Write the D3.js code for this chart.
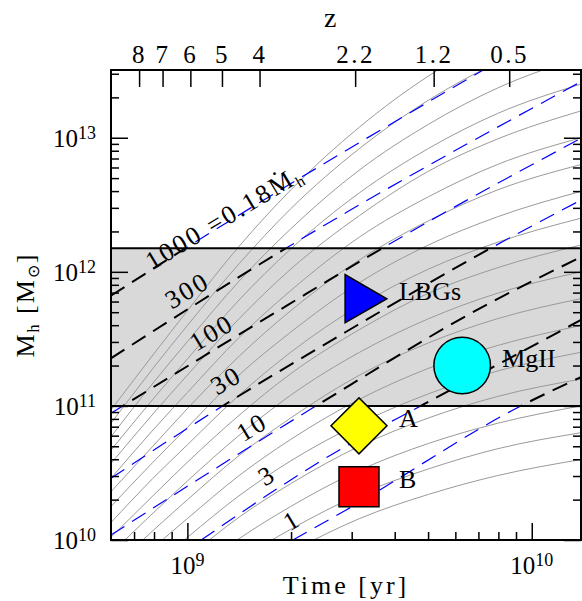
<!DOCTYPE html>
<html>
<head>
<meta charset="utf-8">
<script src="https://cdn.jsdelivr.net/npm/d3@7"></script>
<style>
  body { margin: 0; background: #fff; }
  text { font-family: "Liberation Serif", "Times New Roman", serif; fill: #000; }
</style>
</head>
<body>
<svg id="chart" width="582" height="601"></svg>
<script>
const trackLogT = [8.778, 8.9, 9.0, 9.15, 9.3, 9.5, 9.7, 9.9, 10.143];

// log10 Mh along each grey growth track (one row per track)
const haloTracks = [
  [10.97, 11.38, 11.71, 12.19, 12.61, 13.08, 13.46, 13.75, 14.00],
  [10.87, 11.28, 11.60, 12.06, 12.47, 12.92, 13.28, 13.56, 13.80],
  [10.77, 11.17, 11.48, 11.93, 12.32, 12.76, 13.10, 13.37, 13.60],
  [10.67, 11.05, 11.35, 11.79, 12.17, 12.59, 12.92, 13.18, 13.40],
  [10.57, 10.94, 11.23, 11.65, 12.02, 12.42, 12.75, 12.99, 13.20],
  [10.46, 10.82, 11.10, 11.51, 11.86, 12.26, 12.56, 12.80, 13.00],
  [10.36, 10.70, 10.98, 11.37, 11.71, 12.09, 12.38, 12.61, 12.80],
  [10.25, 10.58, 10.84, 11.23, 11.55, 11.92, 12.20, 12.41, 12.60],
  [10.13, 10.46, 10.71, 11.08, 11.40, 11.75, 12.02, 12.22, 12.40],
  [10.02, 10.33, 10.58, 10.93, 11.24, 11.57, 11.84, 12.03, 12.20],
  [9.90, 10.20, 10.44, 10.78, 11.08, 11.40, 11.65, 11.84, 12.00],
  [9.78, 10.07, 10.30, 10.63, 10.91, 11.23, 11.47, 11.65, 11.80],
  [9.66, 9.94, 10.16, 10.48, 10.75, 11.05, 11.28, 11.45, 11.60],
  [9.54, 9.81, 10.02, 10.33, 10.59, 10.87, 11.09, 11.26, 11.40],
  [9.41, 9.67, 9.87, 10.17, 10.42, 10.70, 10.91, 11.07, 11.20],
  [9.29, 9.53, 9.73, 10.01, 10.25, 10.52, 10.72, 10.87, 11.00],
  [9.16, 9.39, 9.58, 9.85, 10.08, 10.34, 10.53, 10.68, 10.80],
  [9.02, 9.25, 9.43, 9.69, 9.91, 10.16, 10.34, 10.48, 10.60]
];

// lines of constant accretion rate, [log10 t, log10 Mh]
const rate1000 = [[8.778, 11.822], [9.000, 12.185], [9.461, 12.905], [9.859, 13.505]];
const rate300 = [[8.778, 11.355], [9.020, 11.752], [9.292, 12.185], [9.461, 12.442], [10.143, 13.418]];
const rate100 = [[8.778, 10.945], [9.291, 11.752], [9.572, 12.185], [10.143, 12.996]];
const rate30 = [[8.778, 10.460], [9.107, 11.007], [9.461, 11.553], [9.887, 12.185], [10.143, 12.535]];
const rate10 = [[8.778, 10.037], [9.378, 11.007], [9.867, 11.752], [10.143, 12.110]];
const rate3 = [[9.040, 10.000], [9.461, 10.701], [9.683, 11.007], [10.143, 11.641]];
const rate1 = [[9.306, 10.000], [9.461, 10.224], [9.974, 11.007], [10.143, 11.215]];
const rateLines = [rate1000, rate300, rate100, rate30, rate10, rate3, rate1];
const rateNames = ['1000', '300', '100', '30', '10', '3', '1'];

// accretion band limits
const bandLow = 1e11;
const bandHigh = 1.5e12;

// observed samples
const sampleNames = ['LBGs', 'MgII', 'A', 'B'];
const sampleTime = [3.15e9, 6.28e9, 3.15e9, 3.15e9];
const sampleMass = [6.3e11, 2.0e11, 7.1e10, 2.5e10];

// redshift axis
const zLabels = ['8', '7', '6', '5', '4', '2.2', '1.2', '0.5'];
const zTimes = [7.24e8, 8.47e8, 1.02e9, 1.26e9, 1.62e9, 3.07e9, 5.19e9, 8.6e9];

const xMajor = [1e9, 1e10];
const yMajor = [1e10, 1e11, 1e12, 1e13];

// ---- layout ----
const plotL = 111, plotR = 581, plotT = 70, plotB = 540;
const majorLen = 17, minorLen = 8;

const x = d3.scaleLog().domain([6.0e8, 1.39e10]).range([plotL, plotR]);
const y = d3.scaleLog().domain([1e10, 3.2e13]).range([plotB, plotT]);

const svg = d3.select('#chart');
const defs = svg.append('defs');

defs.append('clipPath').attr('id', 'plotClip')
  .append('rect')
  .attr('x', plotL).attr('y', plotT)
  .attr('width', plotR - plotL).attr('height', plotB - plotT);

defs.append('clipPath').attr('id', 'bandClip')
  .append('rect')
  .attr('x', plotL).attr('y', y(bandHigh))
  .attr('width', plotR - plotL).attr('height', y(bandLow) - y(bandHigh));

const outClip = defs.append('clipPath').attr('id', 'outClip');
outClip.append('rect')
  .attr('x', plotL).attr('y', plotT)
  .attr('width', plotR - plotL).attr('height', y(bandHigh) - plotT);
outClip.append('rect')
  .attr('x', plotL).attr('y', y(bandLow))
  .attr('width', plotR - plotL).attr('height', plotB - y(bandLow));

// grey band
svg.append('rect')
  .attr('x', plotL).attr('y', y(bandHigh))
  .attr('width', plotR - plotL).attr('height', y(bandLow) - y(bandHigh))
  .attr('fill', '#d9d9d9');

const line = d3.line()
  .x(d => x(Math.pow(10, d[0])))
  .y(d => y(Math.pow(10, d[1])))
  .curve(d3.curveMonotoneX);

// halo growth tracks
svg.append('g')
  .attr('clip-path', 'url(#plotClip)')
  .selectAll('path')
  .data(haloTracks)
  .enter()
  .append('path')
  .attr('d', row => line(row.map((m, i) => [trackLogT[i], m])))
  .attr('fill', 'none')
  .attr('stroke', '#9a9a9a')
  .attr('stroke-width', 1);

// constant-rate lines: blue outside the band, black inside
const outside = svg.append('g').attr('clip-path', 'url(#outClip)');
outside.selectAll('path')
  .data(rateLines)
  .enter()
  .append('path')
  .attr('d', line)
  .attr('fill', 'none')
  .attr('stroke', '#0000ff')
  .attr('stroke-width', 1.2)
  .attr('stroke-dasharray', '16,9');

const inside = svg.append('g').attr('clip-path', 'url(#bandClip)');
inside.selectAll('path')
  .data(rateLines)
  .enter()
  .append('path')
  .attr('d', line)
  .attr('fill', 'none')
  .attr('stroke', '#000')
  .attr('stroke-width', 2)
  .attr('stroke-dasharray', '16,9');

// band edges
svg.selectAll('.band-edge')
  .data([bandLow, bandHigh])
  .enter()
  .append('line')
  .attr('class', 'band-edge')
  .attr('x1', plotL).attr('x2', plotR)
  .attr('y1', d => y(d)).attr('y2', d => y(d))
  .attr('stroke', '#000')
  .attr('stroke-width', 2);

// rate labels, placed along their lines
const rateLabelPos = [[9.107, 12.411], [8.999, 11.864], [9.070, 11.549], [9.112, 11.193],
  [9.187, 10.845], [9.230, 10.485], [9.303, 10.149]];

const rateText = svg.append('g')
  .selectAll('text')
  .data(rateNames)
  .enter()
  .append('text')
  .attr('transform', (d, i) => {
    const px = x(Math.pow(10, rateLabelPos[i][0]));
    const py = y(Math.pow(10, rateLabelPos[i][1]));
    return `translate(${px},${py}) rotate(-31)`;
  })
  .attr('text-anchor', 'middle')
  .attr('dy', '0.35em')
  .style('font-size', '26px')
  .style('letter-spacing', '2.5px');

rateText.append('tspan').text(d => d === '1000' ? '1000 =0.18\u1E40' : d);
rateText.filter(d => d === '1000')
  .append('tspan')
  .attr('dy', 5)
  .style('font-size', '16px')
  .text('h');

// sample markers
const sym = d3.symbol();
const shapes = [
  { type: d3.symbolTriangle, size: 1004, rot: 90, fill: '#0000ff' },
  { type: d3.symbolCircle, size: 2516, rot: 0, fill: '#00ffff' },
  { type: d3.symbolSquare, size: 1568, rot: 45, fill: '#ffff00' },
  { type: d3.symbolSquare, size: 1600, rot: 0, fill: '#ff0000' }
];

const samples = svg.append('g')
  .selectAll('g')
  .data(sampleNames)
  .enter()
  .append('g')
  .attr('transform', (d, i) => `translate(${x(sampleTime[i])},${y(sampleMass[i])})`);

samples.append('path')
  .attr('d', (d, i) => sym.type(shapes[i].type).size(shapes[i].size)())
  .attr('transform', (d, i) => `rotate(${shapes[i].rot})`)
  .attr('fill', (d, i) => shapes[i].fill)
  .attr('stroke', '#000')
  .attr('stroke-width', 1.5);

samples.append('text')
  .attr('x', 40)
  .attr('y', 1)
  .style('font-size', '26px')
  .text(d => d);

// ---- axes ----
const isMajor = v => Math.abs(Math.log10(v) - Math.round(Math.log10(v))) < 1e-6;
const xTicks = x.ticks().filter(v => v > 6.0e8);
const yTicks = y.ticks();

function tickAxis(axisFn, scale, values, size, translate) {
  const g = svg.append('g')
    .attr('transform', translate)
    .call(axisFn(scale).tickValues(values).tickSizeInner(-size).tickSizeOuter(0).tickFormat(''));
  g.select('.domain').remove();
  g.selectAll('line').attr('stroke', '#000').attr('stroke-width', 1.5);
  return g;
}

tickAxis(d3.axisBottom, x, xTicks.filter(v => !isMajor(v)), minorLen, `translate(0,${plotB})`);
tickAxis(d3.axisBottom, x, xTicks.filter(isMajor), majorLen, `translate(0,${plotB})`);
tickAxis(d3.axisLeft, y, yTicks.filter(v => !isMajor(v)), minorLen, `translate(${plotL},0)`);
tickAxis(d3.axisLeft, y, yTicks.filter(isMajor), majorLen, `translate(${plotL},0)`);
tickAxis(d3.axisRight, y, yTicks.filter(v => !isMajor(v)), minorLen, `translate(${plotR},0)`);
tickAxis(d3.axisRight, y, yTicks.filter(isMajor), majorLen, `translate(${plotR},0)`);

// top redshift axis
const zAxis = svg.append('g')
  .attr('transform', `translate(0,${plotT})`)
  .call(d3.axisTop(x).tickValues(zTimes).tickSizeInner(-majorLen).tickSizeOuter(0)
    .tickPadding(7).tickFormat((d, i) => zLabels[i]));
zAxis.select('.domain').remove();
zAxis.attr('font-family', null).attr('font-size', null);
zAxis.selectAll('line').attr('stroke', '#000').attr('stroke-width', 1.5);
zAxis.selectAll('text')
  .style('font-size', '25px')
  .style('letter-spacing', '2.5px');

svg.append('text')
  .attr('x', x(2.6e9))
  .attr('y', 27)
  .attr('text-anchor', 'middle')
  .style('font-size', '28px')
  .text('z');

// power-of-ten labels
const xLab = svg.append('g')
  .selectAll('text')
  .data(xMajor)
  .enter()
  .append('text')
  .attr('x', d => x(d))
  .attr('y', 574)
  .attr('text-anchor', 'middle')
  .style('font-size', '25px');
xLab.append('tspan').text('10');
xLab.append('tspan').attr('dy', -8).style('font-size', '18px').text(d => Math.round(Math.log10(d)));

const yLab = svg.append('g')
  .selectAll('text')
  .data(yMajor)
  .enter()
  .append('text')
  .attr('x', 96)
  .attr('y', d => y(d) + 9)
  .attr('text-anchor', 'end')
  .style('font-size', '25px');
yLab.append('tspan').text('10');
yLab.append('tspan').attr('dy', -8).style('font-size', '18px').text(d => Math.round(Math.log10(d)));

// axis titles
svg.append('text')
  .attr('x', (plotL + plotR) / 2)
  .attr('y', 594)
  .attr('text-anchor', 'middle')
  .style('font-size', '26px')
  .style('letter-spacing', '3px')
  .text('Time [yr]');

const yTitle = svg.append('text')
  .attr('transform', `translate(34,${(plotT + plotB) / 2}) rotate(-90)`)
  .attr('text-anchor', 'middle')
  .style('font-size', '26px')
  .style('letter-spacing', '2px');
yTitle.append('tspan').text('M');
yTitle.append('tspan').attr('dy', 5).style('font-size', '16px').text('h');
yTitle.append('tspan').attr('dy', -5).text(' [M');
yTitle.append('tspan').attr('dy', 5).style('font-size', '16px').text('\u2299');
yTitle.append('tspan').attr('dy', -5).text(']');

// frame
svg.append('rect')
  .attr('x', plotL).attr('y', plotT)
  .attr('width', plotR - plotL).attr('height', plotB - plotT)
  .attr('fill', 'none')
  .attr('stroke', '#000')
  .attr('stroke-width', 2);
</script>
</body>
</html>
